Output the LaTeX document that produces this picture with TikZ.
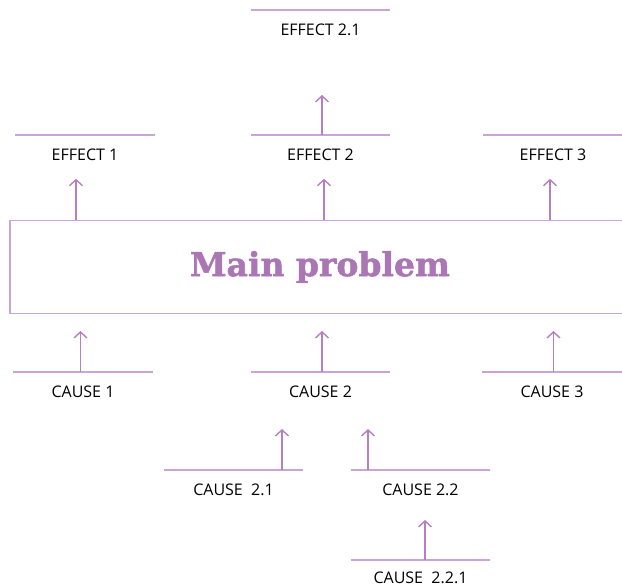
\documentclass[tikz,border=0pt]{standalone}
\usepackage{fontspec}
\setmainfont{Open Sans}
\newfontface\titlefont[FakeBold=1.6]{DejaVu Serif Bold}
\usetikzlibrary{arrows.meta,positioning,calc}

\definecolor{linepurple}{RGB}{200,165,212}
\definecolor{arrowpurple}{RGB}{180,128,194}
\definecolor{titlepurple}{RGB}{170,118,180}

\begin{document}
\begin{tikzpicture}[
    x=1pt, y=-1pt,
    item/.style={minimum width=139pt, minimum height=40pt, inner sep=0pt, anchor=north, font=\fontsize{16}{19}\selectfont},
    bar/.style={draw=linepurple, line width=1.4pt},
    arrow/.style={-{Straight Barb[length=6pt,width=13pt]}, draw=arrowpurple, line width=1.4pt},
    problem/.style={draw=linepurple, line width=1.4pt, minimum width=620pt, minimum height=93pt, text=titlepurple, font=\titlefont\fontsize{33}{40}\selectfont}
]
\useasboundingbox (0,0) rectangle (622,587);
\clip (0,0) rectangle (622,587);

% Main problem
\node[problem] (main) at (320,267) {Main problem};

% Effects
\node[item] (e1) at (85,135) {EFFECT 1};
\node[item] (e2) at (320.5,135) {EFFECT 2};
\node[item] (e3) at (553,135) {EFFECT 3};
\node[item] (e21) at (320.5,10) {EFFECT 2.1};

% Causes
\node[item] (c1) at (83,372) {CAUSE 1};
\node[item] (c2) at (320.5,372) {CAUSE 2};
\node[item] (c3) at (552,372) {CAUSE 3};
\node[item] (c21) at (233.5,470) {CAUSE\ \ 2.1};
\node[item] (c22) at (420.5,470) {CAUSE 2.2};
\node[item, text depth=5pt] (c221) at (420.5,560) {CAUSE\ \ 2.2.1};

% Lines above the labels
\foreach \n in {e1,e2,e3,e21,c1,c2,c3,c21,c22,c221}
    \draw[bar] (\n.north west) -- (\n.north east);

% Main problem -> effects
\draw[arrow] ($(main.north -| e1)+(-9,0)$) -- ++(0,-41);
\draw[arrow] ($(main.north -| e2)+(3.5,0)$) -- ++(0,-41);
\draw[arrow] ($(main.north -| e3)+(-3,0)$) -- ++(0,-41);
\draw[arrow] ([xshift=1.5pt]e2.north) -- ++(0,-40);

% Causes -> main problem
\draw[arrow] ([xshift=-2.5pt]c1.north) -- ++(0,-41);
\draw[arrow] ([xshift=1.5pt]c2.north) -- ++(0,-41);
\draw[arrow] ([xshift=1.5pt]c3.north) -- ++(0,-41);
\draw[arrow] ([xshift=48.5pt]c21.north) -- ++(0,-41);
\draw[arrow] ([xshift=-52.5pt]c22.north) -- ++(0,-41);
\draw[arrow] ([xshift=4.5pt]c221.north) -- ++(0,-40);

\end{tikzpicture}
\end{document}
